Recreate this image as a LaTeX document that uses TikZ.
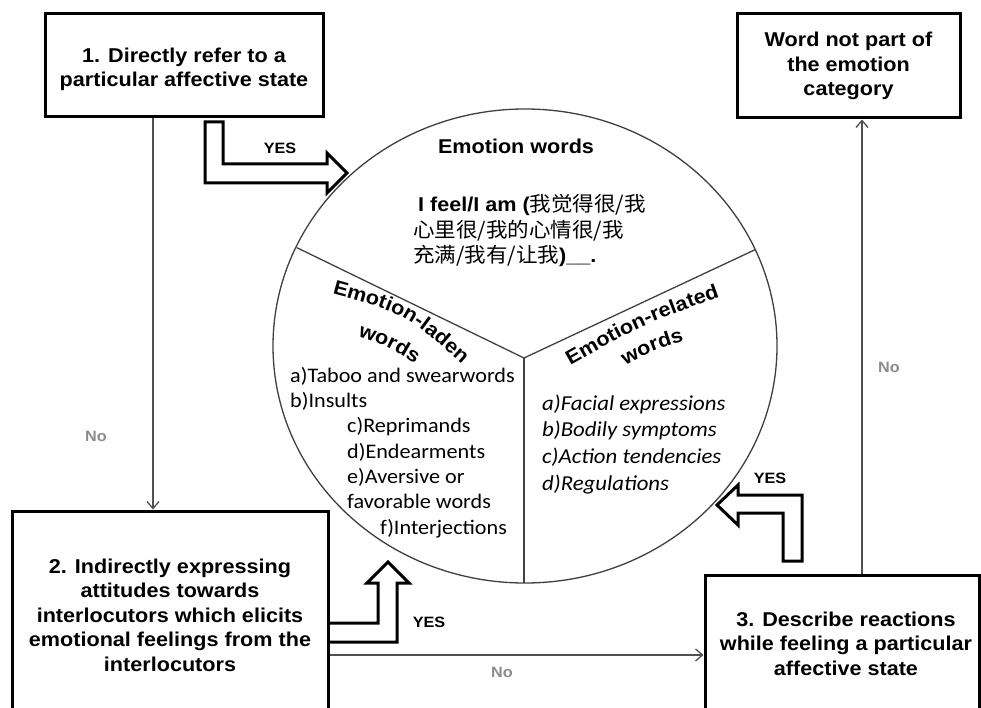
\documentclass[tikz,border=0pt]{standalone}
\usepackage{fontspec}
\usetikzlibrary{arrows.meta,decorations.text}
\newfontfamily\hb{Liberation Sans}[FakeStretch=1.08]
\newfontfamily\calfont{Carlito}[FakeStretch=1.07]
\newfontfamily\cjkfont{Noto Sans CJK SC}[FakeStretch=1.05]
\newcommand\bxfont{\hb\bfseries\fontsize{20}{24.5}\selectfont}
\newcommand\hdfont{\hb\bfseries\fontsize{20}{24}\selectfont}
\newcommand\smfont{\hb\bfseries\fontsize{15}{18}\selectfont}
\definecolor{connc}{HTML}{505050}
\definecolor{pie}{HTML}{404040}
\definecolor{nogray}{HTML}{8C8C8C}
\begin{document}
\begin{tikzpicture}[x=1pt,y=-1pt,
  box/.style={draw=black, line width=3pt, fill=white, inner sep=0pt},
  boxtext/.style={align=center, font=\bxfont, inner sep=0pt, anchor=base},
  conn/.style={draw=connc, line width=1.3pt, -{Straight Barb[length=7pt,width=12pt]}},
  blockarrow/.style={draw=black, line width=3pt, fill=white, line join=miter},
  pieline/.style={draw=pie, line width=1.3pt},
  yeslab/.style={font=\smfont, text=black, inner sep=0pt},
  nolab/.style={font=\smfont, text=nogray, inner sep=0pt},
  listl/.style={font=\calfont\fontsize{20.7}{25.3}\selectfont, align=left, anchor=base west, inner sep=0pt},
  listr/.style={font=\calfont\itshape\fontsize{21.3}{26.6}\selectfont, align=left, anchor=base west, inner sep=0pt},
  cjkline/.style={anchor=base west, inner sep=0pt}
]
\useasboundingbox (0,0) rectangle (981,708);
\fill[white] (0,0) rectangle (981,708);

% pie
\draw[pieline] (525,346) ellipse [x radius=252pt, y radius=237pt];
\coordinate (pc) at (524,358);
\coordinate (pl) at (296.5,247.5);
\coordinate (pr) at (755.5,249.5);
\coordinate (pb) at (524,583);
\draw[pieline] (pl) -- (pc) -- (pr);
\draw[pieline] (pc) -- (pb);

% block arrows
\draw[blockarrow] (205,122) -- (223,122) -- (223,164) -- (327,164) -- (327,153) -- (347,173) -- (327,193) -- (327,183) -- (205,183) -- cycle;
\draw[blockarrow] (328,623) -- (378,623) -- (378,583) -- (367,583) -- (388,562) -- (409,583) -- (397,583) -- (397,642) -- (328,642) -- cycle;
\draw[blockarrow] (783,561) -- (783,513) -- (738,513) -- (738,525) -- (717,505) -- (738,485) -- (738,495) -- (802,495) -- (802,561) -- cycle;

% boxes
\node[box, minimum width=278pt, minimum height=103pt] (b1) at (184,65.5) {};
\node[box, minimum width=223pt, minimum height=104pt] (b4) at (848.5,66) {};
\node[box, minimum width=316pt, minimum height=206pt] (b2) at (170,614) {};
\node[box, minimum width=274pt, minimum height=142pt] (b3) at (842,646) {};
\node[boxtext] (t1) at (184,87) {1. Directly refer to a\\particular affective state};
\node[boxtext] (t4) at (848.5,96) {Word not part of\\the emotion\\category};
\node[boxtext] (t2) at (170,671) {2. Indirectly expressing\\attitudes towards\\interlocutors which elicits\\emotional feelings from the\\interlocutors};
\node[boxtext] (t3) at (846,675) {3. Describe reactions\\while feeling a particular\\affective state};

% connectors
\coordinate (n1) at (153,0);
\coordinate (n2) at (862,0);
\coordinate (n3) at (0,655);
\draw[conn] (b1.south -| n1) -- (b2.north -| n1);
\draw[conn] (b3.north -| n2) -- (b4.south -| n2);
\draw[conn] (b2.east |- n3) -- (b3.west |- n3);

% labels
\node[yeslab] (y1) at (280,148) {YES};
\node[yeslab] (y2) at (429,622) {YES};
\node[yeslab] (y3) at (770,478) {YES};
\node[nolab] (no1) at (96,436) {No};
\node[nolab] (no2) at (889,367) {No};
\node[nolab] (no3) at (502,672) {No};

% top sector
\node[anchor=base, font=\hdfont, inner sep=0pt] (ewt) at (516,154) {Emotion words};
\node[cjkline] (ew1) at (413,212) {\hspace*{5pt}\hdfont I feel/I am (\cjkfont\mdseries\fontsize{20.5}{24}\selectfont 我觉得很/我};
\node[cjkline] (ew2) at (413,237.5) {\cjkfont\fontsize{20.5}{24}\selectfont 心里很/我的心情很/我};
\node[cjkline] (ew3) at (413,263) {\cjkfont\fontsize{20.5}{24}\selectfont 充满/我有/让我\hdfont)\_\_.};

% left sector
\path[decorate, decoration={text along path, text align=center,
  text={|\hdfont|Emotion-laden}}] (322,291) .. controls (405.5,313.4) .. (470,371);
\path[decorate, decoration={text along path, text align=center,
  text={|\hdfont|words}}] (349.8,334.1) .. controls (388.1,346.5) .. (422.2,367.9);
\node[listl] (ll) at (290,534) {a)Taboo and swearwords\\b)Insults\\\hspace*{57pt}c)Reprimands\\\hspace*{57pt}d)Endearments\\\hspace*{57pt}e)Aversive or\\\hspace*{57pt}favorable words\\\hspace*{90pt}f)Interjections};

% right sector
\path[decorate, decoration={text along path, text align=center,
  text={|\hdfont|Emotion-related}}] (560,371) .. controls (642,324.7) .. (731,293);
\path[decorate, decoration={text along path, text align=center,
  text={|\hdfont|words}}] (618,369) .. controls (653.5,350.3) .. (692,339);
\node[listr] (lr) at (542,490) {a)Facial expressions\\b)Bodily symptoms\\c)Action tendencies\\d)Regulations};
\end{tikzpicture}
\end{document}
